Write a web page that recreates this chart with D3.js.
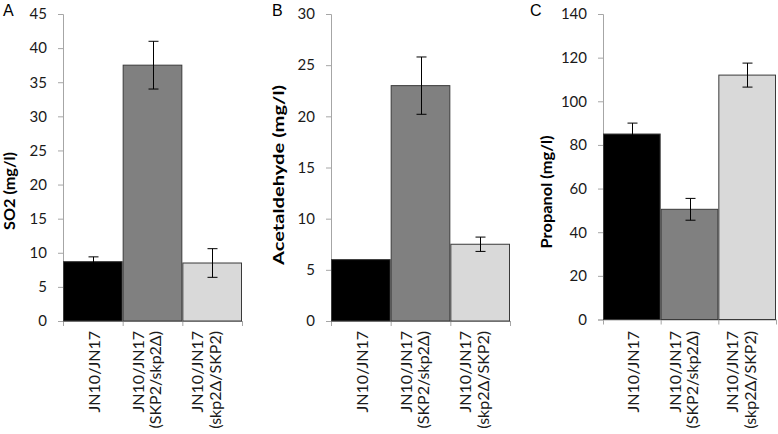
<!DOCTYPE html>
<html>
<head>
<meta charset="utf-8">
<script src="https://cdnjs.cloudflare.com/ajax/libs/d3/7.8.5/d3.min.js"></script>
<style>
html,body{margin:0;padding:0;background:#fff;}
svg{display:block;}
</style>
</head>
<body>
<svg id="chart" width="778" height="434"></svg>
<script>
// ---- data ----
const categories = [
  ["JN10/JN17"],
  ["JN10/JN17", "(SKP2/skp2Δ)"],
  ["JN10/JN17", "(skp2Δ/SKP2)"]
];
const so2Values = [8.7, 37.5, 8.5];
const so2Errors = [0.7, 3.5, 2.1];
const acetaldehydeValues = [6.0, 23.0, 7.5];
const acetaldehydeErrors = [0.0, 2.8, 0.7];
const propanolValues = [85, 50.5, 112];
const propanolErrors = [5, 5, 5.5];
const so2Ticks = [0, 5, 10, 15, 20, 25, 30, 35, 40, 45];
const acetaldehydeTicks = [0, 5, 10, 15, 20, 25, 30];
const propanolTicks = [0, 20, 40, 60, 80, 100, 120, 140];
const barColors = ["#000000", "#808080", "#d9d9d9"];

// ---- layout ----
const panels = [
  {letter: "A", title: "SO2 (mg/l)", values: so2Values, errors: so2Errors, ticks: so2Ticks,
   x0: 63, x1: 242, yTop: 14, yBottom: 321, letterX: 3, titleX: 15, titleY: 191, titleLen: 78},
  {letter: "B", title: "Acetaldehyde (mg/l)", values: acetaldehydeValues, errors: acetaldehydeErrors, ticks: acetaldehydeTicks,
   x0: 331, x1: 510, yTop: 14, yBottom: 321, letterX: 272, titleX: 284, titleY: 175, titleLen: 180},
  {letter: "C", title: "Propanol (mg/l)", values: propanolValues, errors: propanolErrors, ticks: propanolTicks,
   x0: 603, x1: 776, yTop: 14, yBottom: 319.5, letterX: 530, titleX: 552, titleY: 192, titleLen: 113}
];

const svg = d3.select("#chart");
const axisColor = "#a6a6a6";

panels.forEach(p => {
  const g = svg.append("g");
  const x = d3.scaleBand().domain(d3.range(p.values.length)).range([p.x0, p.x1]).paddingInner(0).paddingOuter(0);
  const y = d3.scaleLinear().domain([0, d3.max(p.ticks)]).range([p.yBottom, p.yTop]);

  // y axis
  const yAxis = d3.axisLeft(y).tickValues(p.ticks).tickSize(5).tickPadding(11).tickFormat(d3.format("d"));
  const ya = g.append("g").attr("transform", `translate(${p.x0},0)`).call(yAxis);
  ya.select(".domain").attr("stroke", axisColor);
  ya.selectAll(".tick line").attr("stroke", axisColor);
  ya.selectAll(".tick text").attr("fill", "#1a1a1a")
    .style("font-family", "Lato, 'Open Sans', sans-serif").style("font-size", "15px");

  // x axis line with boundary ticks
  g.append("line").attr("x1", p.x0).attr("x2", p.x1).attr("y1", p.yBottom + 0.5).attr("y2", p.yBottom + 0.5)
    .attr("stroke", axisColor);
  const bounds = d3.range(p.values.length + 1).map(i => i < p.values.length ? x(i) : x(i - 1) + x.bandwidth());
  g.selectAll(".xt").data(bounds).join("line")
    .attr("x1", d => d + 0.5).attr("x2", d => d + 0.5)
    .attr("y1", p.yBottom).attr("y2", p.yBottom + 5).attr("stroke", axisColor);

  // bars
  g.selectAll(".bar").data(p.values).join("rect")
    .attr("x", (d, i) => x(i) + 0.5)
    .attr("y", d => y(d))
    .attr("width", x.bandwidth() - 1)
    .attr("height", d => y(0) - y(d))
    .attr("fill", (d, i) => barColors[i])
    .attr("stroke", "#3a3a3a").attr("stroke-width", 1);

  // error bars
  p.values.forEach((v, i) => {
    const e = p.errors[i];
    if (!e) return;
    const cx = Math.round(x(i) + x.bandwidth() / 2) + 0.5;
    const eg = g.append("g").attr("stroke", "#000").attr("stroke-width", 1);
    eg.append("line").attr("x1", cx).attr("x2", cx).attr("y1", y(v + e)).attr("y2", y(v - e));
    eg.append("line").attr("x1", cx - 5).attr("x2", cx + 5).attr("y1", y(v + e)).attr("y2", y(v + e));
    eg.append("line").attr("x1", cx - 5).attr("x2", cx + 5).attr("y1", y(v - e)).attr("y2", y(v - e));
  });

  // category labels (rotated)
  categories.forEach((lines, i) => {
    const cx = x(i) + x.bandwidth() / 2;
    const n = lines.length;
    lines.forEach((t, j) => {
      const off = n === 1 ? 7 : (j === 0 ? -9 : 8.5);
      g.append("text")
        .attr("transform", `translate(${cx + off},331) rotate(-90)`)
        .attr("text-anchor", "end")
        .attr("fill", "#1a1a1a")
        .style("font-family", "Lato, 'Open Sans', sans-serif")
        .style("font-size", "16px")
        .text(t);
    });
  });

  // y title
  g.append("text")
    .attr("transform", `translate(${p.titleX},${p.titleY}) rotate(-90)`)
    .attr("text-anchor", "middle")
    .attr("textLength", p.titleLen)
    .attr("lengthAdjust", "spacingAndGlyphs")
    .attr("fill", "#000")
    .style("font-family", "Lato, 'Open Sans', sans-serif")
    .style("font-weight", "bold")
    .style("font-size", "16px")
    .text(p.title);

  // panel letter
  g.append("text")
    .attr("x", p.letterX).attr("y", 16)
    .attr("fill", "#000")
    .style("font-family", "'Liberation Sans', Arial, sans-serif")
    .style("font-size", "16px")
    .text(p.letter);
});
</script>
</body>
</html>
